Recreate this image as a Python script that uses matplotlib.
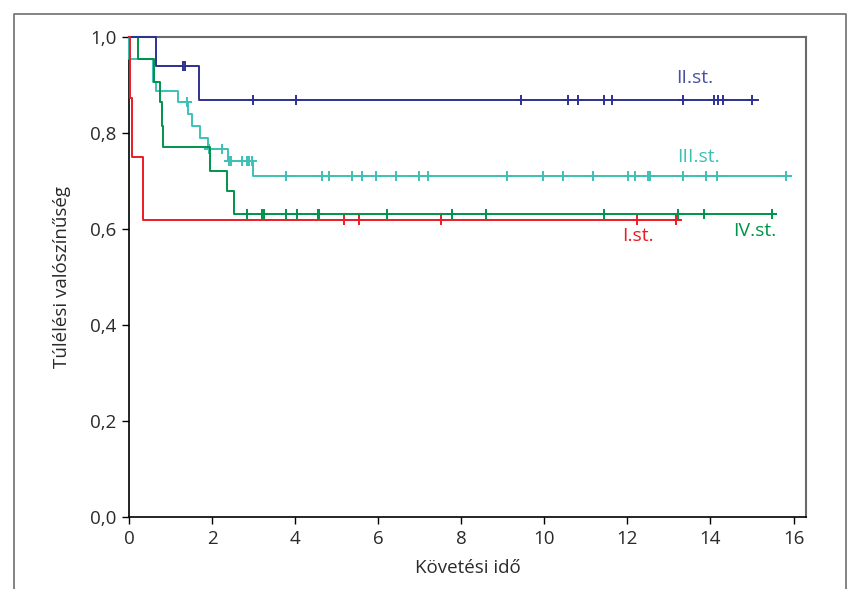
import numpy as np
import matplotlib
matplotlib.use("Agg")
import matplotlib.pyplot as plt
from matplotlib.lines import Line2D

plt.rcParams['font.family'] = ['Open Sans', 'DejaVu Sans']

# ---- data (Kaplan-Meier step curves) ----
# II.st. (blue)
blue_t = [0.0, 0.64, 1.69]
blue_s = [1.0, 0.940, 0.869]
blue_end = 15.14
blue_cens = [1.30, 1.34, 2.98, 4.02, 9.45, 10.57, 10.80, 11.43, 11.64,
             13.35, 14.08, 14.18, 14.30, 15.01]

# I.st. (red)
red_t = [0.0, 0.02, 0.08, 0.34]
red_s = [1.0, 0.872, 0.749, 0.619]
red_end = 13.30
red_cens = [5.18, 5.54, 7.52, 12.23, 13.18]

# III.st. (cyan)
cyan_t = [0.0, 0.0, 0.585, 0.65, 1.19, 1.43, 1.51, 1.71, 1.91, 2.38, 2.98]
cyan_s = [1.0, 0.955, 0.907, 0.888, 0.865, 0.839, 0.815, 0.789, 0.767, 0.742, 0.710]
cyan_end = 15.94
cyan_cens = [1.39, 1.92, 2.25, 2.41, 2.45, 2.71, 2.83, 2.90, 2.95, 3.79, 4.64,
             4.82, 5.36, 5.62, 5.94, 6.44, 6.98, 7.20, 9.09, 9.97, 10.44,
             11.16, 12.01, 12.19, 12.50, 12.54, 13.35, 13.90, 14.16, 15.83]

# IV.st. (green)
green_t = [0.0, 0.21, 0.61, 0.755, 0.79, 0.83, 1.95, 2.35, 2.53]
green_s = [1.0, 0.955, 0.906, 0.865, 0.815, 0.770, 0.721, 0.680, 0.631]
green_end = 15.58
green_cens = [2.85, 3.20, 3.24, 3.79, 4.04, 4.54, 4.58, 6.22, 7.78, 8.59,
              11.43, 13.22, 13.84, 15.48]

x_ticks = [0, 2, 4, 6, 8, 10, 12, 14, 16]
y_ticks = [0.0, 0.2, 0.4, 0.6, 0.8, 1.0]
y_ticklabels = ['0,0', '0,2', '0,4', '0,6', '0,8', '1,0']

labels = ['II.st.', 'III.st.', 'I.st.', 'IV.st.']
label_pos = [(13.63, 0.915), (13.70, 0.750), (12.26, 0.585), (15.07, 0.596)]

BLUE = '#2e3192'
RED = '#ed1c24'
CYAN = '#3cc1b4'
GREEN = '#00944a'
label_colors = ['#4a4fa8', CYAN, RED, GREEN]

# ---- figure ----
fig = plt.figure(figsize=(8.47, 5.89), dpi=100)
ax = fig.add_axes([129 / 847, 1 - 517 / 589, (806 - 129) / 847, (517 - 37) / 589])

# outer frame (open at the bottom)
fx0, fx1, fy0 = 13.5 / 847, 845.5 / 847, 1 - 13.5 / 589
fig.add_artist(Line2D([fx0, fx0, fx1, fx1], [0, fy0, fy0, 0],
                      transform=fig.transFigure, color='#7a7a7a', lw=1.3))


def km(ax, t, s, end, cens, color, z):
    tt = list(t) + [end]
    ss = list(s) + [s[-1]]
    ax.step(tt, ss, where='post', color=color, lw=1.4, zorder=z, clip_on=False)
    t_arr = np.array(t)
    s_arr = np.array(s)
    c = np.array(cens)
    idx = np.searchsorted(t_arr, c, side='right') - 1
    ax.plot(c, s_arr[idx], linestyle='none', marker='+', ms=7, mew=1.4,
            color=color, zorder=z, clip_on=False)


km(ax, cyan_t, cyan_s, cyan_end, cyan_cens, CYAN, 3)
km(ax, green_t, green_s, green_end, green_cens, GREEN, 4)
km(ax, blue_t, blue_s, blue_end, blue_cens, BLUE, 5)
km(ax, red_t, red_s, red_end, red_cens, RED, 6)

for lab, (x, y), col in zip(labels, label_pos, label_colors):
    ax.text(x, y, lab, color=col, fontsize=14, ha='center', va='center')

ax.set_xlim(0, 16.3)
ax.set_ylim(0, 1.0)
ax.set_xticks(x_ticks)
ax.set_xticklabels([str(v) for v in x_ticks])
ax.set_yticks(y_ticks)
ax.set_yticklabels(y_ticklabels)
ax.tick_params(direction='out', length=5, width=1, colors='black',
               labelsize=13.5, labelcolor='#2a2a2a', pad=4)

for side in ['left', 'bottom']:
    ax.spines[side].set_color('black')
    ax.spines[side].set_linewidth(1.2)
for side in ['top', 'right']:
    ax.spines[side].set_color('#6a6a6a')
    ax.spines[side].set_linewidth(1.5)

ax.set_xlabel('Követési idő', fontsize=13.5, color='#2a2a2a', labelpad=8)
ax.set_ylabel('Túlélési valószínűség', fontsize=13.5, color='#2a2a2a', labelpad=14)

fig.savefig('out.png', dpi=100)
